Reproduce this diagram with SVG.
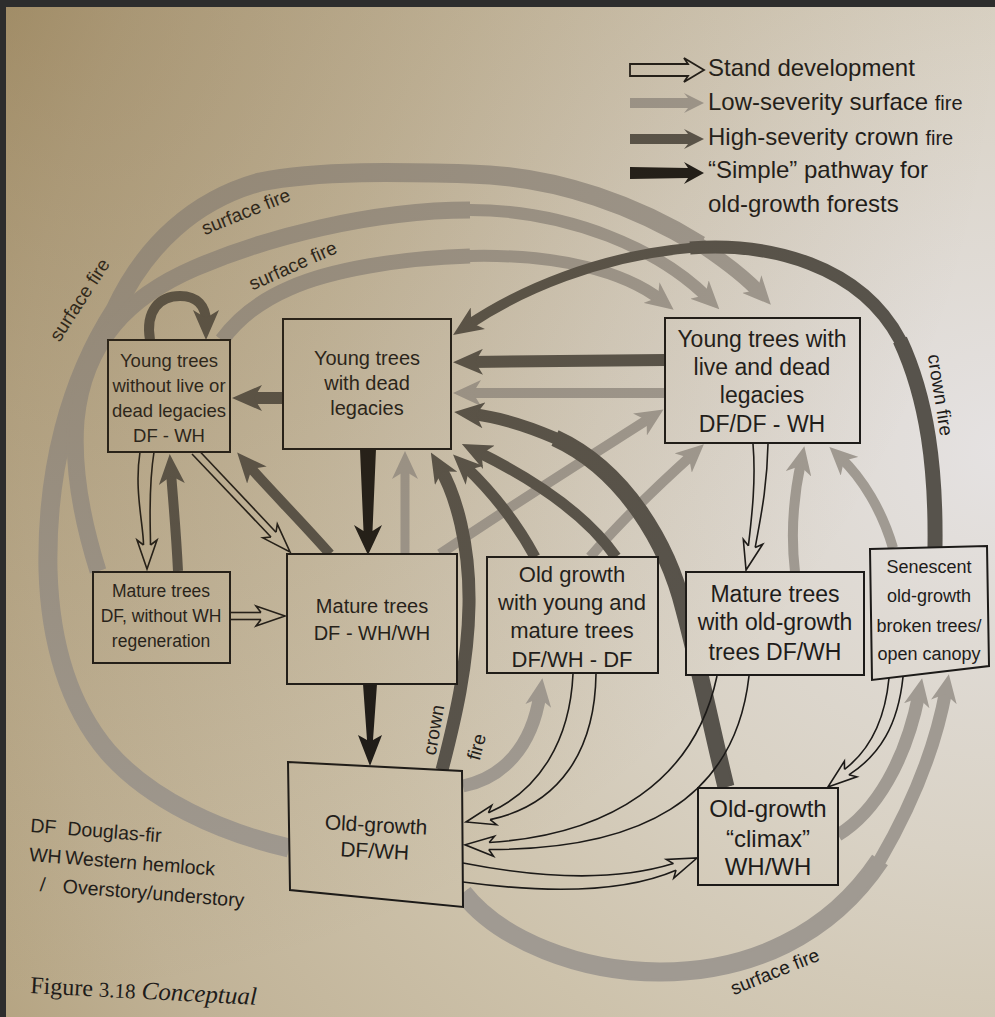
<svg xmlns="http://www.w3.org/2000/svg" width="995" height="1017" viewBox="0 0 995 1017">
<defs>
<radialGradient id="bg" gradientUnits="userSpaceOnUse" cx="1000" cy="450" r="1150">
<stop offset="0" stop-color="#e5e2e2"/>
<stop offset="0.35" stop-color="#d9d2c5"/>
<stop offset="0.6" stop-color="#cdc2ab"/>
<stop offset="0.85" stop-color="#c0b296"/>
<stop offset="1" stop-color="#b5a482"/>
</radialGradient>
<radialGradient id="shade" gradientUnits="userSpaceOnUse" cx="0" cy="0" r="1000">
<stop offset="0" stop-color="#6e501e" stop-opacity="0.32"/>
<stop offset="1" stop-color="#6e501e" stop-opacity="0"/>
</radialGradient>
<marker id="aL" viewBox="0 -13 28 26" refX="12" refY="0" markerWidth="28" markerHeight="26" markerUnits="userSpaceOnUse" orient="auto"><path d="M0,-13L28,0L0,13L8,0Z" fill="#a09a92"/></marker>
<marker id="aD" viewBox="0 -13 30 26" refX="12" refY="0" markerWidth="30" markerHeight="26" markerUnits="userSpaceOnUse" orient="auto"><path d="M0,-13L30,0L0,13L8,0Z" fill="#57534c"/></marker>
<marker id="aH" viewBox="-7 -12 33 24" refX="0" refY="0" markerWidth="33" markerHeight="24" markerUnits="userSpaceOnUse" orient="auto" overflow="visible"><path d="M0,-3.5L-5,-10L24,0L-5,10L0,3.5" fill="none" stroke="#1c1a18" stroke-width="1.6"/></marker>
<style>
.box{fill:url(#bg);stroke:#1c1a18;stroke-width:2}
.lg{fill:none;stroke:#a09a92}
.dg{fill:none;stroke:#57534c}
.hl{fill:none;stroke:#1c1a18;stroke-width:1.6}
.hc{fill:none;stroke:none}
.bk{fill:#1c1a18}
.t{font-family:"Liberation Sans",Arial,sans-serif;fill:#1e1c1a;text-anchor:middle}
.lbl{font-family:"Liberation Sans",Arial,sans-serif;fill:#1e1c1a;font-size:19px;text-anchor:middle}
.leg{font-family:"Liberation Sans",Arial,sans-serif;fill:#1e1c1a;font-size:24px}
.key{font-family:"Liberation Sans",Arial,sans-serif;fill:#1e1c1a;font-size:19.5px}
</style>
</defs>

<rect width="995" height="1017" fill="#2d2d2d"/>
<rect x="6" y="7" width="989" height="1010" fill="url(#bg)"/>

<g id="connectors">
<!-- surface fire (light gray) -->
<path class="lg" stroke-width="19" d="M289,848 C220,832 150,800 108,752 C68,705 50,640 48,570 C46,470 70,380 115,310 C145,245 195,200 260,182 C320,170 400,172 470,174 C560,176 640,208 700,245"/>
<path class="lg" stroke-width="14" d="M289,848 C220,832 150,800 108,752 C68,705 50,640 48,570 C46,470 70,380 115,310 C145,245 195,200 260,182 C320,170 400,172 470,174 C560,176 640,208 700,245 C730,265 748,280 760,293"/>
<path class="lg" stroke-width="12" marker-end="url(#aL)" d="M700,245 C730,265 748,280 760,293"/>
<path class="lg" stroke-width="17" d="M98,571 C82,520 72,470 76,420 C84,340 130,296 195,268 C265,238 370,210 470,210"/>
<path class="lg" stroke-width="12" marker-end="url(#aL)" d="M98,571 C82,520 72,470 76,420 C84,340 130,296 195,268 C265,238 370,210 470,210 C570,210 660,250 708,298"/>
<path class="lg" stroke-width="15" d="M222,340 C238,318 262,300 290,288 C330,270 400,258 470,256"/>
<path class="lg" stroke-width="12" marker-end="url(#aL)" d="M222,340 C238,318 262,300 290,288 C330,270 400,258 470,256 C560,254 625,272 661,300"/>
<path class="lg" stroke-width="19" d="M463,893 C500,940 580,972 660,972 C750,972 830,935 880,860"/>
<path class="lg" stroke-width="13" marker-end="url(#aL)" d="M463,893 C500,940 580,972 660,972 C750,972 830,935 880,860 C912,805 936,745 946,690"/>
<path class="lg" stroke-width="13" marker-end="url(#aL)" d="M838,835 C876,812 906,760 919,694"/>
<path class="lg" stroke-width="13" marker-end="url(#aL)" d="M463,786 C502,778 532,748 540,694"/>
<path class="lg" stroke-width="10" marker-end="url(#aL)" d="M665,393 L469,393"/>
<path class="lg" stroke-width="9" marker-end="url(#aL)" d="M405,554 L405,467"/>
<path class="lg" stroke-width="10" marker-end="url(#aL)" d="M440,554 C520,500 600,450 650,418"/>
<path class="lg" stroke-width="10" marker-end="url(#aL)" d="M590,557 C622,520 662,482 692,455"/>
<path class="lg" stroke-width="10" marker-end="url(#aL)" d="M795,572 C790,530 795,490 801,462"/>
<path class="lg" stroke-width="10" marker-end="url(#aL)" d="M893,548 C882,510 862,478 841,458"/>

<!-- crown fire (dark gray) -->
<path class="dg" stroke-width="15" d="M935,547 C936,470 928,400 900,340"/>
<path class="dg" stroke-width="13" d="M935,547 C936,470 928,400 900,340 C860,265 770,242 690,248"/>
<path class="dg" stroke-width="10" marker-end="url(#aD)" d="M900,340 C860,265 770,242 690,248 C600,256 520,290 468,325"/>
<path class="dg" stroke-width="12" marker-end="url(#aD)" d="M665,360 L471,362"/>
<path class="dg" stroke-width="17" d="M726,787 C712,730 700,670 684,610 C668,545 625,470 555,438"/>
<path class="dg" stroke-width="12" marker-end="url(#aD)" d="M726,787 C712,730 700,670 684,610 C668,545 625,470 555,438 C525,425 498,417 472,414"/>
<path class="dg" stroke-width="11" marker-end="url(#aD)" d="M535,557 C515,520 490,490 466,467"/>
<path class="dg" stroke-width="11" marker-end="url(#aD)" d="M616,557 C590,520 545,485 478,452"/>
<path class="dg" stroke-width="13" marker-end="url(#aD)" d="M442,770 C455,720 468,665 469,605 C470,545 456,495 440,468"/>
<path class="dg" stroke-width="12" marker-end="url(#aD)" d="M283,398 L250,398"/>
<path class="dg" stroke-width="10" marker-end="url(#aD)" d="M178,571 C176,530 173,500 171,472"/>
<path class="dg" stroke-width="10" marker-end="url(#aD)" d="M330,554 C300,520 270,490 249,466"/>
<path class="dg" stroke-width="10" marker-end="url(#aD)" d="M150,340 C145,310 160,296 180,296 C197,296 206,306 206,322"/>

<!-- simple pathway (black) -->
<polygon class="bk" points="360,449 376,449 372.5,531 382,525 368,555 354,525 363.5,531"/>
<polygon class="bk" points="363,684 377,684 373,740 382,735 370,766 358,735 367,740"/>

<!-- stand development (hollow) -->
<path class="hl" d="M140,452 C134,490 143.5,525 143.5,545"/>
<path class="hl" d="M154,452 C148,490 150.5,525 150.5,545"/>
<path class="hc" marker-end="url(#aH)" d="M147,452 C141,490 147,525 147,545"/>
<path class="hl" d="M192,454 L271,537"/>
<path class="hl" d="M198,449.5 L276,532.2"/>
<path class="hc" marker-end="url(#aH)" d="M195,452 L273.5,534.6"/>
<path class="hl" d="M230,612.5 L261,612.5"/>
<path class="hl" d="M230,619.5 L261,619.5"/>
<path class="hc" marker-end="url(#aH)" d="M230,616 L261,616"/>
<path class="hl" d="M753,444 C756,480 752,515 748.4,545.9"/>
<path class="hl" d="M768,444 C767,490 760,520 755.2,547.5"/>
<path class="hc" marker-end="url(#aH)" d="M760,444 C762,485 756.6,527.3 751.8,546.7"/>
<path class="hl" d="M573,674 C570,740 540,790 488.5,812.8"/>
<path class="hl" d="M596,674 C595,750 560,805 490.1,819.6"/>
<path class="hc" marker-end="url(#aH)" d="M584,674 C582,745 528,806.6 489.3,816.2"/>
<path class="hl" d="M717,676 C695,780 610,835 489.2,842.5"/>
<path class="hl" d="M749,676 C735,800 640,850 488.8,849.5"/>
<path class="hc" marker-end="url(#aH)" d="M733,676 C715,790 539,848.5 489,846"/>
<path class="hl" d="M463,863 C550,880 620,880 673.4,863.6"/>
<path class="hl" d="M463,882 C560,895 630,890 676,870.2"/>
<path class="hc" marker-end="url(#aH)" d="M463,872 C555,888 637.5,881.7 674.7,866.9"/>
<path class="hl" d="M889,678 C885,720 870,750 844.5,769.4"/>
<path class="hl" d="M903,677 C898,725 880,755 848.9,774.8"/>
<path class="hc" marker-end="url(#aH)" d="M896,678 C892,722 866.2,756.6 846.7,772.1"/>
</g>

<g id="connector-labels">
<text class="lbl" transform="translate(80,300) rotate(-57)" x="0" y="6">surface fire</text>
<text class="lbl" transform="translate(246,212) rotate(-22)" x="0" y="6">surface fire</text>
<text class="lbl" transform="translate(293,266) rotate(-24)" x="0" y="6">surface fire</text>
<text class="lbl" transform="translate(775,972) rotate(-22)" x="0" y="6">surface fire</text>
<text class="lbl" transform="translate(940,395) rotate(81)" x="0" y="6">crown fire</text>
<text class="lbl" transform="translate(434,730) rotate(-80)" x="0" y="6">crown</text>
<text class="lbl" transform="translate(477,747) rotate(-75)" x="0" y="6">fire</text>
</g>

<g id="n-young-no-legacies">
<rect class="box" x="108" y="340" width="122" height="112"/>
<text class="t" font-size="18.5"><tspan x="169" y="367">Young trees</tspan><tspan x="169" y="392">without live or</tspan><tspan x="169" y="417">dead legacies</tspan><tspan x="169" y="442">DF - WH</tspan></text>
</g>
<g id="n-young-dead-legacies">
<rect class="box" x="283" y="319" width="168" height="130"/>
<text class="t" font-size="20"><tspan x="367" y="365">Young trees</tspan><tspan x="367" y="390">with dead</tspan><tspan x="367" y="415">legacies</tspan></text>
</g>
<g id="n-young-live-dead">
<rect class="box" x="665" y="318" width="195" height="125"/>
<text class="t" font-size="23"><tspan x="762" y="347">Young trees with</tspan><tspan x="762" y="375">live and dead</tspan><tspan x="762" y="403">legacies</tspan><tspan x="762" y="432">DF/DF - WH</tspan></text>
</g>
<g id="n-mature-df">
<rect class="box" x="93" y="572" width="137" height="91"/>
<text class="t" font-size="17.5"><tspan x="161" y="597">Mature trees</tspan><tspan x="161" y="622">DF, without WH</tspan><tspan x="161" y="647">regeneration</tspan></text>
</g>
<g id="n-mature-dfwh">
<rect class="box" x="287" y="554" width="170" height="130"/>
<text class="t" font-size="20"><tspan x="372" y="613">Mature trees</tspan><tspan x="372" y="640">DF - WH/WH</tspan></text>
</g>
<g id="n-old-young-mature">
<rect class="box" x="487" y="557" width="171" height="116"/>
<text class="t" font-size="22"><tspan x="572" y="582">Old growth</tspan><tspan x="572" y="610">with young and</tspan><tspan x="572" y="638">mature trees</tspan><tspan x="572" y="667">DF/WH - DF</tspan></text>
</g>
<g id="n-mature-oldgrowth">
<rect class="box" x="686" y="572" width="178" height="103"/>
<text class="t" font-size="23"><tspan x="775" y="602">Mature trees</tspan><tspan x="775" y="630">with old-growth</tspan><tspan x="775" y="660">trees DF/WH</tspan></text>
</g>
<g id="n-senescent">
<polygon class="box" points="870,549 987,546 989,666 872,680"/>
<text class="t" font-size="18"><tspan x="929" y="573">Senescent</tspan><tspan x="929" y="602">old-growth</tspan><tspan x="929" y="632">broken trees/</tspan><tspan x="929" y="660">open canopy</tspan></text>
</g>
<g id="n-oldgrowth-dfwh">
<polygon class="box" points="288,762 462,771 463,907 290,890"/>
<text class="t" font-size="21" transform="rotate(3,375,845)"><tspan x="375" y="832">Old-growth</tspan><tspan x="375" y="858">DF/WH</tspan></text>
</g>
<g id="n-climax">
<rect class="box" x="698" y="788" width="140" height="97"/>
<text class="t" font-size="24"><tspan x="768" y="817">Old-growth</tspan><tspan x="768" y="847">“climax”</tspan><tspan x="768" y="875">WH/WH</tspan></text>
</g>

<g id="legend">
<path d="M630,64 L688,64 L684,58 L704,70 L684,82 L688,76 L630,76 Z" fill="none" stroke="#1c1a18" stroke-width="1.8"/>
<polygon points="630,98 688,98 684,93 704,103 684,113 688,108 630,108" fill="#a09a92"/>
<polygon points="630,134 688,134 684,129 704,139 684,149 688,144 630,144" fill="#57534c"/>
<polygon points="630,167 688,168 684,162 704,173 684,184 688,178 630,179" fill="#1c1a18"/>
<text class="leg" x="708" y="76">Stand development</text>
<text class="leg" x="708" y="110">Low-severity surface <tspan font-size="20">fire</tspan></text>
<text class="leg" x="708" y="145">High-severity crown <tspan font-size="20">fire</tspan></text>
<text class="leg" x="708" y="178">“Simple” pathway for</text>
<text class="leg" x="708" y="212">old-growth forests</text>
</g>

<g id="key" transform="rotate(4.5,30,832)">
<text class="key" x="30" y="832">DF</text>
<text class="key" x="67" y="832">Douglas-fir</text>
<text class="key" x="31" y="861">WH</text>
<text class="key" x="67" y="861">Western hemlock</text>
<text class="key" x="44" y="890">/</text>
<text class="key" x="67" y="890">Overstory/understory</text>
</g>

<text x="30" y="993" transform="rotate(3,30,993)" font-family="'Liberation Serif',serif" font-size="24" fill="#1e1c1a">Figure <tspan font-size="21">3.18</tspan> <tspan font-style="italic" font-size="25">Conceptual</tspan></text>

<rect x="0" y="0" width="995" height="1017" fill="url(#shade)"/>
<rect x="0" y="0" width="995" height="7" fill="#2d2d2d"/>
<rect x="0" y="0" width="6" height="1017" fill="#2d2d2d"/>
</svg>
